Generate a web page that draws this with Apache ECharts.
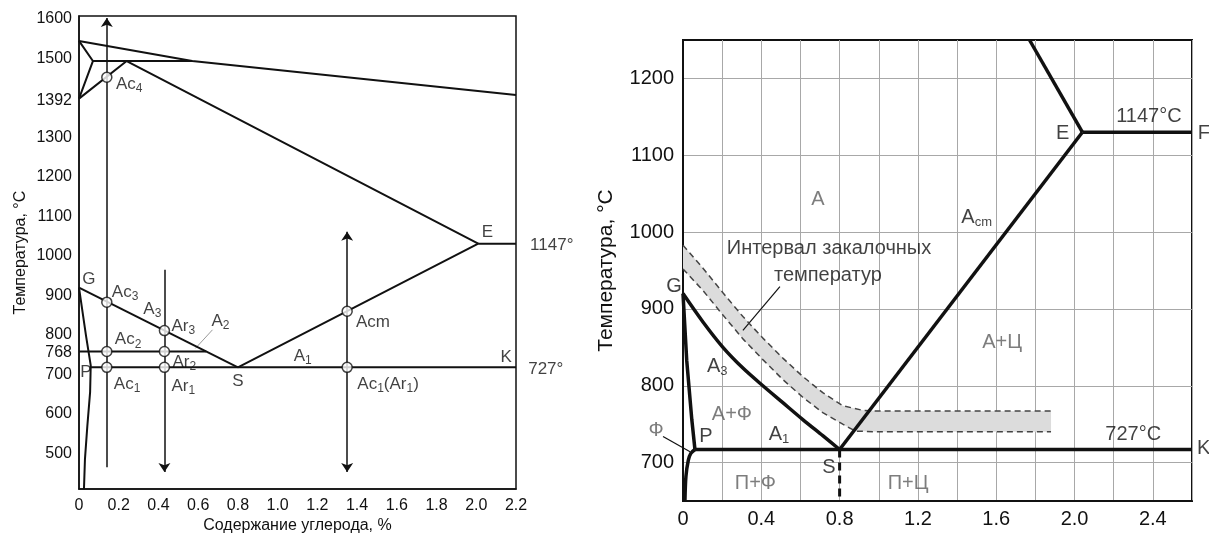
<!DOCTYPE html>
<html>
<head>
<meta charset="utf-8">
<script src="https://cdn.jsdelivr.net/npm/echarts@6/dist/echarts.min.js"></script>
<style>
  html, body { margin: 0; background: #fff; }
  #chart { width: 1209px; height: 539px; }
</style>
</head>
<body>
<div id="chart"></div>
<script>
// ---- left diagram: critical points (C %, deg C on the drawing's own scale) ----
const leftYTicks = [500, 600, 700, 768, 800, 900, 1000, 1100, 1200, 1300, 1392, 1500, 1600]
const leftLiquidus = [[0, 1544], [0.57, 1493], [2.2, 1407]]
const leftDelta = [[0, 1544], [0.07, 1493], [0, 1398]]
const leftPeritectic = [[0.07, 1493], [0.57, 1493]]
const leftSolidus = [[0, 1398], [0.24, 1493], [2.01, 1031]]
const leftSE = [[0.8, 718], [2.01, 1031], [2.2, 1031]]
const leftGS = [[0, 920], [0.8, 718]]
const leftGPQ = [[0, 920], [0.035, 799], [0.059, 723], [0.056, 656], [0.042, 570], [0.03, 486], [0.025, 410]]
const leftA1 = [[0.059, 718], [2.2, 718]]
const leftA2 = [[0, 758], [0.64, 758]]
const leftPoints = [[0.14, 1452], [0.14, 883], [0.14, 758], [0.14, 718], [0.43, 811], [0.43, 758], [0.43, 718], [1.35, 860], [1.35, 718]]
const leftHeating = [[0.14, 465], [0.14, 1602]]
const leftCooling = [[0.43, 965], [0.43, 453]]
const leftBoth = [[1.35, 453], [1.35, 1061]]
const leftA2Leader = [[0.672, 813], [0.586, 766]]
const leftLabels = [
  [0.253, 1435, 'Ac{s|4}'], [0.05, 940, 'G'], [0.232, 909, 'Ac{s|3}'], [0.369, 864, 'A{s|3}'],
  [0.525, 821, 'Ar{s|3}'], [0.712, 834, 'A{s|2}'], [0.247, 788, 'Ac{s|2}'], [0.53, 730, 'Ar{s|2}'],
  [0.035, 705, 'P'], [0.242, 675, 'Ac{s|1}'], [0.525, 670, 'Ar{s|1}'], [0.8, 682, 'S'],
  [1.126, 746, 'A{s|1}'], [1.48, 831, 'Acm'], [1.556, 675, 'Ac{s|1}(Ar{s|1})'], [2.056, 1059, 'E'],
  [2.15, 743, 'K'], [2.38, 1028, '1147°'], [2.35, 713, '727°']
]

// ---- right diagram ----
const rightYTicks = [700, 800, 900, 1000, 1100, 1200]
const rightXLabels = [0, 0.4, 0.8, 1.2, 1.6, 2.0, 2.4]
const rightGS = [[0, 920], [0.102, 883], [0.204, 850], [0.306, 823], [0.408, 800], [0.51, 778], [0.612, 756], [0.714, 735], [0.8, 717]]
const rightGP = [[0, 920], [0.019, 833], [0.045, 756], [0.061, 717]]
const rightPQ = [[0.061, 717], [0.04, 712], [0.027, 703], [0.015, 682], [0.01, 651]]
const rightPK = [[0.061, 717], [2.6, 717]]
const rightSE = [[0.8, 717], [2.04, 1130]]
const rightEtop = [[2.04, 1130], [1.77, 1250]]
const rightEF = [[2.04, 1130], [2.6, 1130]]
const rightSdash = [[0.8, 717], [0.8, 650]]
const bandUpper = [[0, 983], [0.102, 953], [0.204, 921], [0.306, 890], [0.408, 862], [0.51, 836], [0.612, 812], [0.714, 791], [0.816, 774], [0.918, 768], [1.0, 767], [1.88, 767]]
const bandLower = [[0, 952], [0.102, 924], [0.204, 892], [0.306, 861], [0.408, 834], [0.51, 808], [0.612, 785], [0.714, 765], [0.816, 750], [0.88, 741], [1.0, 740], [1.88, 740]]
const bandLeader = [[0.495, 929], [0.306, 872]]
const ferriteLeader = [[-0.102, 734], [0.036, 714]]
const rightLabels = [
  [0.689, 1042, 'A', 1], [0.746, 979, 'Интервал закалочных', 0], [0.74, 944, 'температур', 0],
  [1.5, 1019, 'A{s|cm}', 0], [1.94, 1128, 'E', 0], [2.38, 1151, '1147°C', 0], [2.66, 1128, 'F', 0],
  [1.63, 856, 'A+Ц', 1], [2.30, 736, '727°C', 0], [2.66, 718, 'K', 0], [1.15, 673, 'П+Ц', 1],
  [-0.046, 929, 'G', 0], [0.175, 825, 'A{s|3}', 0], [0.25, 762, 'A+Ф', 1], [-0.138, 742, 'Ф', 1],
  [0.117, 734, 'P', 0], [0.49, 736, 'A{s|1}', 0], [0.745, 693, 'S', 0], [0.37, 673, 'П+Ф', 1]
]

const FONT = '"Liberation Sans", Arial, sans-serif'
const INK = '#111'
const PHASE = '#5c5c5c'

function curve(data, gi, width, extra) {
  return Object.assign({
    type: 'line', xAxisIndex: gi, yAxisIndex: gi, data: data,
    showSymbol: false, symbol: 'none', silent: true,
    lineStyle: { color: INK, width: width }
  }, extra || {})
}

// straight segments drawn as 'lines' (arrows and leader strokes)
function segment(coords, gi, symbols, width, color) {
  return {
    type: 'lines', coordinateSystem: 'cartesian2d', xAxisIndex: gi, yAxisIndex: gi,
    silent: true, clip: false, symbol: symbols, symbolSize: [9, 9],
    lineStyle: { color: color || INK, width: width, opacity: 1 },
    data: [{ coords: coords }]
  }
}

function labels(data, gi, size, subSize) {
  return {
    type: 'scatter', xAxisIndex: gi, yAxisIndex: gi, clip: false, silent: true,
    symbolSize: 0.1, itemStyle: { color: 'transparent' }, z: 10,
    data: data.map(d => ({ value: [d[0], d[1]], name: d[2], label: { color: d[3] ? PHASE : INK } })),
    label: {
      show: true, position: 'inside', formatter: '{b}',
      fontFamily: FONT, fontSize: size, color: INK,
      rich: { s: { fontFamily: FONT, fontSize: subSize, padding: [9, 0, 0, 0] } }
    }
  }
}

const chart = echarts.init(document.getElementById('chart'))
const option = {
  animation: false,
  backgroundColor: '#fff',
  textStyle: { fontFamily: FONT },
  grid: [
    { left: 79, top: 16, width: 437, height: 474, show: true, borderColor: INK, borderWidth: 1.5 },
    { left: 683, top: 40, width: 509, height: 461, show: true, borderColor: INK, borderWidth: 2 }
  ],
  xAxis: [
    {
      gridIndex: 0, type: 'value', min: 0, max: 2.2, interval: 0.2,
      name: 'Содержание углерода, %', nameLocation: 'middle', nameGap: 27,
      nameTextStyle: { fontSize: 16, color: INK, fontFamily: FONT },
      axisLine: { lineStyle: { color: INK, width: 1.5 } }, axisTick: { show: false }, splitLine: { show: false },
      axisLabel: { fontSize: 16, color: INK, margin: 8, formatter: v => v === 0 ? '0' : v.toFixed(1) }
    },
    {
      gridIndex: 1, type: 'value', min: 0, max: 2.6, interval: 0.2,
      axisLine: { lineStyle: { color: INK, width: 2 } }, axisTick: { show: false },
      splitLine: { show: true, lineStyle: { color: '#a8a8a8', width: 1 } },
      axisLabel: { customValues: rightXLabels, fontSize: 20, color: INK, margin: 8, formatter: v => v === 0 ? '0' : v.toFixed(1) }
    }
  ],
  yAxis: [
    {
      gridIndex: 0, type: 'value', min: 410, max: 1607,
      name: 'Температура, °C', nameLocation: 'middle', nameGap: 50,
      nameTextStyle: { fontSize: 16, color: INK, fontFamily: FONT },
      axisLine: { lineStyle: { color: INK, width: 1.5 } }, axisTick: { show: false }, splitLine: { show: false },
      axisLabel: {
        customValues: leftYTicks, fontSize: 16, color: INK, margin: 7,
        formatter: v => v === 768 ? '{d|768}' : String(v),
        rich: { d: { fontSize: 16, fontFamily: FONT, color: INK, padding: [10, 0, 0, 0] } }
      }
    },
    {
      gridIndex: 1, type: 'value', min: 650, max: 1250,
      name: 'Температура, °C', nameLocation: 'middle', nameGap: 66,
      nameTextStyle: { fontSize: 21, color: INK, fontFamily: FONT },
      axisLine: { lineStyle: { color: INK, width: 2 } },
      axisTick: { show: false, customValues: rightYTicks },
      splitLine: { show: true, lineStyle: { color: '#a8a8a8', width: 1 } },
      axisLabel: { customValues: rightYTicks, fontSize: 20, color: INK, margin: 9, formatter: v => String(v) }
    }
  ],
  series: [
    // left
    curve(leftLiquidus, 0, 2),
    curve(leftDelta, 0, 2),
    curve(leftPeritectic, 0, 2),
    curve(leftSolidus, 0, 2),
    curve(leftSE, 0, 2),
    curve(leftGS, 0, 2),
    curve(leftGPQ, 0, 2),
    curve(leftA1, 0, 2),
    curve(leftA2, 0, 2),
    segment(leftA2Leader, 0, ['none', 'none'], 1, '#9a9a9a'),
    segment(leftHeating, 0, ['none', 'arrow'], 1.5),
    segment(leftCooling, 0, ['none', 'arrow'], 1.5),
    segment(leftBoth, 0, ['arrow', 'arrow'], 1.5),
    {
      type: 'scatter', xAxisIndex: 0, yAxisIndex: 0, silent: true, z: 5,
      symbol: 'circle', symbolSize: 10, data: leftPoints,
      itemStyle: { color: '#fff', borderColor: INK, borderWidth: 1.5 }
    },
    labels(leftLabels, 0, 17, 12),
    // right
    {
      type: 'custom', xAxisIndex: 1, yAxisIndex: 1, silent: true, z: 1,
      data: [[0, 700]],
      renderItem: function (params, api) {
        const pts = bandUpper.concat(bandLower.slice().reverse()).map(p => api.coord(p))
        return { type: 'polygon', shape: { points: pts }, style: { fill: '#dcdcdc' } }
      }
    },
    curve(bandUpper, 1, 1.5, { lineStyle: { color: '#444', width: 1.5, type: [6, 4] } }),
    curve(bandLower, 1, 1.5, { lineStyle: { color: '#444', width: 1.5, type: [6, 4] } }),
    curve(rightGS, 1, 3.5, { smooth: 0.3 }),
    curve(rightGP, 1, 3.5),
    curve(rightPQ, 1, 3.5, { smooth: 0.3 }),
    curve(rightPK, 1, 3.5),
    curve(rightSE, 1, 3.5),
    curve(rightEtop, 1, 3.5),
    curve(rightEF, 1, 3.5),
    curve(rightSdash, 1, 3, { lineStyle: { color: INK, width: 3, type: [8, 5] } }),
    segment(bandLeader, 1, ['none', 'none'], 1.2),
    segment(ferriteLeader, 1, ['none', 'none'], 1.2),
    labels(rightLabels, 1, 20, 13)
  ]
}
chart.setOption(option)
window.addEventListener('resize', function () { chart.resize() })
</script>
</body>
</html>
